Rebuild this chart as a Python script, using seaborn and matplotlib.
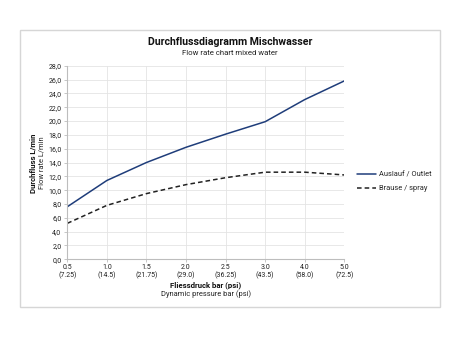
import matplotlib
matplotlib.use("Agg")
import matplotlib.pyplot as plt
from matplotlib import font_manager
from matplotlib.patches import Rectangle
from matplotlib.lines import Line2D
import numpy as np
import pandas as pd
import seaborn as sns

# Pressure steps (bar with psi in brackets)
pressure_bar = ["0.5", "1.0", "1.5", "2.0", "2.5", "3.0", "4.0", "5.0"]
pressure_psi = ["7.25", "14.5", "21.75", "29.0", "36.25", "43.5", "58.0", "72.5"]

# Flow rates in L/min
outlet_flow = [7.6, 11.4, 14.0, 16.2, 18.1, 19.9, 23.1, 25.8]
spray_flow = [5.2, 7.8, 9.5, 10.8, 11.8, 12.6, 12.6, 12.2]

series_names = ["Auslauf / Outlet", "Brause / spray"]
y_ticks = np.arange(0, 28.1, 2)

sns.set_theme(style="white")
available = {f.name for f in font_manager.fontManager.ttflist}
family = "Roboto"
for cand in ["Liberation Sans Narrow", "Roboto", "Open Sans"]:
    if cand in available:
        family = cand
        break
plt.rcParams["font.family"] = [family, "DejaVu Sans"]

df = pd.DataFrame({
    "pos": list(range(len(pressure_bar))) * 2,
    "flow": outlet_flow + spray_flow,
    "series": [series_names[0]] * len(outlet_flow) + [series_names[1]] * len(spray_flow),
})

fig = plt.figure(figsize=(4.6, 3.45), dpi=100)
ax = fig.add_axes([67.3 / 460, 1 - 259.3 / 345, 277 / 460, 193.6 / 345])

palette = {series_names[0]: "#1f3d7a", series_names[1]: "#222222"}
dashes = {series_names[0]: "", series_names[1]: (3, 2)}
sns.lineplot(data=df, x="pos", y="flow", hue="series", style="series",
             palette=palette, dashes=dashes, linewidth=1.1, ax=ax, legend=False)

ax.set_xlim(0, len(pressure_bar) - 1)
ax.set_ylim(0, 28)
ax.set_xticks(range(len(pressure_bar)))
ax.set_xticklabels([f"{b}\n({p})" for b, p in zip(pressure_bar, pressure_psi)],
                   fontsize=5.0, color="#222222", linespacing=1.05)
ax.set_yticks(y_ticks)
ax.set_yticklabels([f"{v:.1f}".replace(".", ",") for v in y_ticks],
                   fontsize=5.0, color="#222222")
ax.grid(True, color="#e4e4e4", linewidth=0.6)
ax.set_axisbelow(True)
for side in ["top", "right"]:
    ax.spines[side].set_visible(False)
for side in ["left", "bottom"]:
    ax.spines[side].set_color("#bdbdbd")
    ax.spines[side].set_linewidth(0.8)
ax.tick_params(axis="both", which="both", length=2.2, width=0.6, color="#bdbdbd",
               pad=2, left=True, bottom=True)
ax.tick_params(axis="x", pad=1.5)
ax.set_xlabel("")
ax.set_ylabel("")

# Titles
fig.text(230 / 460, 1 - 42.3 / 345, "Durchflussdiagramm Mischwasser",
         ha="center", va="center", fontsize=7.6, fontweight="bold", color="#111111")
fig.text(230 / 460, 1 - 53.3 / 345, "Flow rate chart mixed water",
         ha="center", va="center", fontsize=5.6, color="#222222")

# Axis titles
fig.text(206 / 460, 1 - 285 / 345, "Fliessdruck bar (psi)",
         ha="center", va="center", fontsize=5.6, fontweight="bold", color="#111111")
fig.text(206 / 460, 1 - 294.5 / 345, "Dynamic pressure bar (psi)",
         ha="center", va="center", fontsize=5.4, color="#222222")
fig.text(33.5 / 460, 1 - 163 / 345, "Durchfluss L/min", rotation=90,
         ha="center", va="center", fontsize=5.6, fontweight="bold", color="#111111")
fig.text(41.5 / 460, 1 - 163 / 345, "Flow rate L/min", rotation=90,
         ha="center", va="center", fontsize=5.4, color="#222222")

# Legend
handles = [Line2D([], [], color=palette[s], linewidth=1.1,
                  linestyle="-" if s == series_names[0] else (0, (3, 2)))
           for s in series_names]
fig.legend(handles, series_names, loc="center left",
           bbox_to_anchor=(357 / 460, 1 - 181.5 / 345), frameon=False,
           fontsize=5.4, handlelength=2.6, handletextpad=0.3, labelspacing=0.9,
           borderaxespad=0, borderpad=0)

# Outer frame
fig.patches.append(Rectangle((20 / 460, 1 - 306.5 / 345), 420 / 460, 277 / 345,
                             transform=fig.transFigure, fill=False,
                             edgecolor="#d6d6d6", linewidth=1.0))

fig.savefig("out.png", dpi=100, facecolor="white")
